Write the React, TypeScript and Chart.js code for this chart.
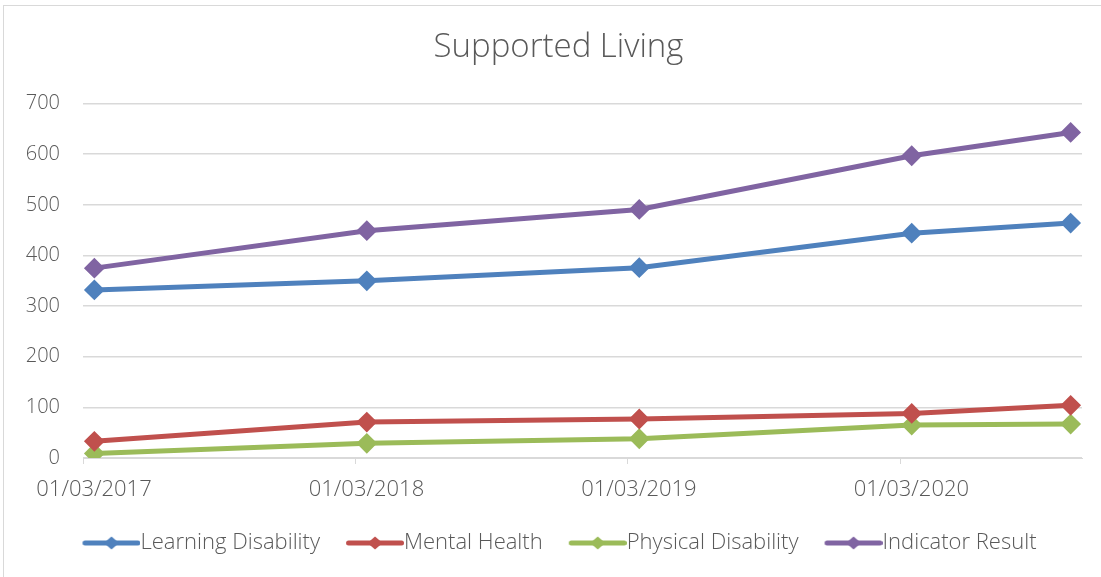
import { useEffect, useRef } from 'react';
import { Chart, registerables } from 'chart.js';

Chart.register(...registerables);

// ---- data ----
const pointDates = ['2017-03', '2018-03', '2019-03', '2020-03', '2020-10'];
const axisStart = '2017-03';
const axisEnd = '2020-10';
const seriesNames = ['Learning Disability', 'Mental Health', 'Physical Disability', 'Indicator Result'];
const learningDisability = [332, 350, 376, 444, 464];
const mentalHealth = [33, 71, 77, 88, 104];
const physicalDisability = [9, 29, 38, 65, 67];
const indicatorResult = [375, 449, 491, 597, 643];
const xTickLabels = ['01/03/2017', '01/03/2018', '01/03/2019', '01/03/2020'];
const yTicks = [0, 100, 200, 300, 400, 500, 600, 700];
const seriesColors = ['#4F81BD', '#C0504D', '#9BBB59', '#8064A2'];

const FONT = "'Open Sans', 'DejaVu Sans', sans-serif";
const TEXT = '#595959';
const GRID = '#D9D9D9';
const LEGEND_PAD = 28;
const LEGEND_SHIFT = 7;
const TITLE_SHIFT = 5;
const ICON_M = 9;
const ICON_W = ICON_M + 58;

const monthIndex = (ym: string) => {
  const [y, m] = ym.split('-').map(Number);
  const [y0, m0] = axisStart.split('-').map(Number);
  return (y - y0) * 12 + (m - m0);
};
const labelMonth = (lbl: string) => {
  const [, mm, yyyy] = lbl.split('/');
  return monthIndex(`${yyyy}-${mm}`);
};

function legendIcon(color: string) {
  const c = document.createElement('canvas');
  c.width = ICON_W;
  c.height = 16;
  const ctx = c.getContext('2d')!;
  ctx.strokeStyle = color;
  ctx.lineWidth = 5;
  ctx.lineCap = 'round';
  ctx.beginPath();
  ctx.moveTo(ICON_M + 2.5, 8);
  ctx.lineTo(ICON_W - 2.5, 8);
  ctx.stroke();
  const cx = (ICON_M + ICON_W) / 2;
  ctx.fillStyle = color;
  ctx.beginPath();
  ctx.moveTo(cx, 1.5);
  ctx.lineTo(cx + 7.5, 8);
  ctx.lineTo(cx, 14.5);
  ctx.lineTo(cx - 7.5, 8);
  ctx.closePath();
  ctx.fill();
  return c;
}

const boxShift = {
  id: 'boxShift',
  afterLayout(chart: any) {
    const lg = chart.legend;
    if (lg) {
      lg.left += LEGEND_SHIFT;
      lg.right += LEGEND_SHIFT;
    }
    const tb = chart.titleBlock;
    if (tb) {
      tb.left += TITLE_SHIFT;
      tb.right += TITLE_SHIFT;
    }
  },
};

export default function App() {
  const ref = useRef<HTMLCanvasElement>(null);

  useEffect(() => {
    document.body.style.margin = '0';
    const series = [learningDisability, mentalHealth, physicalDisability, indicatorResult];
    const icons = seriesColors.map(legendIcon);
    const chart = new Chart(ref.current!, {
      type: 'line',
      plugins: [boxShift],
      data: {
        datasets: series.map((vals, i) => ({
          label: seriesNames[i],
          data: vals.map((v, j) => ({ x: monthIndex(pointDates[j]) + 0.5, y: v })),
          borderColor: seriesColors[i],
          backgroundColor: seriesColors[i],
          borderWidth: 5,
          pointStyle: 'rectRot',
          pointRadius: 9,
          pointBorderWidth: 2,
          pointBorderColor: seriesColors[i],
          pointBackgroundColor: seriesColors[i],
          tension: 0,
        })),
      },
      options: {
        animation: false,
        responsive: false,
        layout: { padding: { left: 21, right: 19, top: 10, bottom: 13 } },
        plugins: {
          tooltip: { enabled: false },
          title: {
            display: true,
            text: 'Supported Living',
            color: TEXT,
            font: { family: FONT, size: 33, weight: '300' as any },
            padding: { top: 12, bottom: 36 },
          },
          legend: {
            position: 'bottom',
            labels: {
              usePointStyle: true,
              pointStyleWidth: ICON_W - 22,
              boxHeight: 14,
              padding: LEGEND_PAD,
              color: TEXT,
              font: { family: FONT, size: 22, weight: '300' as any },
              generateLabels: (ch: any) => {
                const items = (Chart.defaults.plugins.legend.labels as any).generateLabels(ch);
                return items.map((it: any, i: number) => ({ ...it, pointStyle: icons[i] }));
              },
            },
          },
        },
        scales: {
          x: {
            type: 'linear',
            min: 0,
            max: monthIndex(axisEnd) + 1,
            afterBuildTicks: (scale: any) => {
              scale.ticks = xTickLabels.map((l) => ({ value: labelMonth(l) }));
            },
            afterFit: (scale: any) => {
              scale.paddingLeft = 0;
              scale.paddingRight = 0;
              scale.height = 46;
            },
            ticks: {
              color: TEXT,
              font: { family: FONT, size: 22, weight: '300' as any },
              padding: 13,
              labelOffset: 11,
              maxRotation: 0,
              autoSkip: false,
              callback: (_v: any, idx: number) => xTickLabels[idx],
            },
            grid: { display: true, drawOnChartArea: false, drawTicks: true, tickLength: 6, color: GRID, lineWidth: 1 },
            border: { display: true, color: GRID, width: 1 },
          },
          y: {
            min: 0,
            max: yTicks[yTicks.length - 1],
            afterBuildTicks: (scale: any) => {
              scale.ticks = yTicks.map((v) => ({ value: v }));
            },
            afterFit: (scale: any) => {
              scale.width = 58;
            },
            ticks: {
              color: TEXT,
              font: { family: FONT, size: 20, weight: '300' as any },
              padding: 23,
            },
            grid: { color: GRID, lineWidth: 1.5, drawTicks: false },
            border: { display: false },
          },
        },
      },
    });
    return () => chart.destroy();
  }, []);

  return (
    <div
      style={{
        position: 'absolute',
        left: 3,
        top: 5,
        width: 1098,
        height: 572,
        borderLeft: `1px solid ${GRID}`,
        borderTop: `1px solid ${GRID}`,
        overflow: 'hidden',
        background: '#fff',
      }}
    >
      <canvas ref={ref} width={1097} height={571} style={{ display: 'block' }} />
    </div>
  );
}
